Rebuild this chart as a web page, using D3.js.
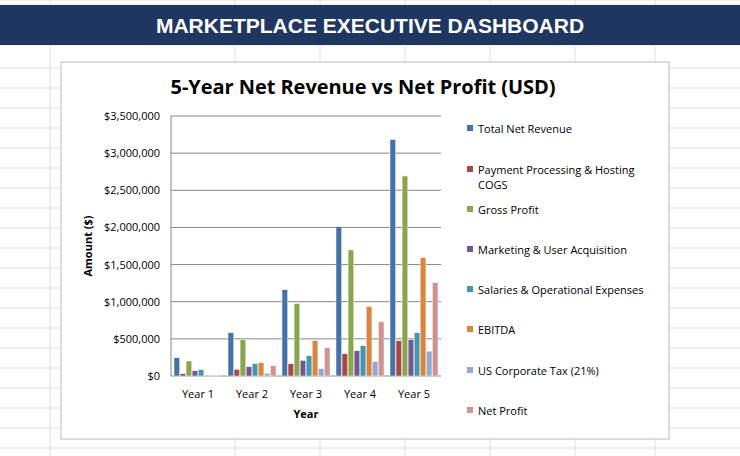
<!DOCTYPE html><html><head><meta charset="utf-8"><script src="https://cdn.jsdelivr.net/npm/d3@7"></script>
<style>body{margin:0;background:#fff}svg{display:block}</style></head><body><svg width="740" height="456"></svg>
<script>
const categories=["Year 1","Year 2","Year 3","Year 4","Year 5"];
const seriesNames=["Total Net Revenue","Payment Processing & Hosting COGS","Gross Profit","Marketing & User Acquisition","Salaries & Operational Expenses","EBITDA","US Corporate Tax (21%)","Net Profit"];
const colors=["#4572A7","#AA4643","#89A54E","#71588F","#4198AF","#DB843D","#93A9CF","#D19392"];
const totalNetRevenue=[247000,583000,1162000,2011000,3182000];
const cogs=[31000,90000,166000,300000,476000];
const grossProfit=[202000,489000,974000,1697000,2693000];
const marketing=[72000,126000,211000,341000,489000];
const salaries=[85000,166000,274000,408000,583000];
const ebitda=[13000,180000,476000,934000,1594000];
const tax=[3000,38000,100000,196000,335000];
const netProfit=[13000,139000,381000,732000,1257000];
const yTicks=[0,500000,1000000,1500000,2000000,2500000,3000000,3500000];
const values=[totalNetRevenue,cogs,grossProfit,marketing,salaries,ebitda,tax,netProfit];

const svg=d3.select("svg");
const g0=svg.append("g");
[0,5,45,68,88,108,128,148,168,188,208,228,248,268,288,308,328,348,368,388,408,428,448].forEach(y=>g0.append("line").attr("x1",0).attr("x2",740).attr("y1",y).attr("y2",y).attr("stroke","#e0e0e0"));
[50,235,320,405,490,575,655].forEach(x=>g0.append("line").attr("x1",x).attr("x2",x).attr("y1",0).attr("y2",456).attr("stroke","#e0e0e0"));
svg.append("rect").attr("x",0).attr("y",5).attr("width",740).attr("height",40).attr("fill","#1F3760");
svg.append("text").attr("x",370).attr("y",33).attr("text-anchor","middle").attr("fill","#fff").attr("font-family","Liberation Sans, Arial").attr("font-weight","bold").attr("font-size",21).text("MARKETPLACE EXECUTIVE DASHBOARD");
svg.append("rect").attr("x",61).attr("y",62).attr("width",608).attr("height",377).attr("fill","#fff").attr("stroke","#bbb");
svg.append("text").attr("x",363).attr("y",94).attr("text-anchor","middle").attr("font-family","Open Sans, Calibri, sans-serif").attr("font-weight","bold").attr("font-size",20).attr("textLength",385).attr("fill","#000").text("5-Year Net Revenue vs Net Profit (USD)");

const x0=d3.scaleBand().domain(categories).range([171,441]);
const x1=d3.scaleBand().domain(d3.range(8)).range([3,x0.bandwidth()-3]).paddingInner(0.05);
const y=d3.scaleLinear().domain([0,3500000]).range([376,116]);
const fmt=v=>"$"+d3.format(",")(v);
svg.append("g").selectAll("line").data(yTicks).join("line").attr("x1",171).attr("x2",441).attr("y1",d=>y(d)).attr("y2",d=>y(d)).attr("stroke","#868686");
svg.append("line").attr("x1",171).attr("x2",171).attr("y1",116).attr("y2",376).attr("stroke","#868686");
svg.append("g").selectAll("text").data(yTicks).join("text").attr("x",160).attr("y",d=>y(d)+4).attr("text-anchor","end").attr("font-family","Open Sans, sans-serif").attr("font-size",11).text(fmt);
const gb=svg.append("g");
values.forEach((arr,s)=>{gb.selectAll(null).data(arr).join("rect").attr("x",(d,i)=>x0(categories[i])+x1(s)).attr("width",x1.bandwidth()).attr("y",d=>y(d)).attr("height",d=>376-y(d)).attr("fill",colors[s]).attr("stroke","#fff").attr("stroke-width",0.5);});
svg.append("g").selectAll("text").data(categories).join("text").attr("x",d=>x0(d)+x0.bandwidth()/2).attr("y",398).attr("text-anchor","middle").attr("font-family","Open Sans, sans-serif").attr("font-size",11).text(d=>d);
svg.append("text").attr("x",306).attr("y",418).attr("text-anchor","middle").attr("font-family","Open Sans, sans-serif").attr("font-weight","bold").attr("font-size",11).text("Year");
svg.append("text").attr("transform","translate(92,246) rotate(-90)").attr("text-anchor","middle").attr("font-family","Open Sans, sans-serif").attr("font-weight","bold").attr("font-size",11).text("Amount ($)");
const legY=[129,170,210,250,290,330,371,411];
const lg=svg.append("g");
seriesNames.forEach((n,i)=>{
 lg.append("rect").attr("x",467).attr("y",legY[i]-4).attr("width",6).attr("height",6).attr("fill",colors[i]);
 const t=lg.append("text").attr("x",478).attr("y",legY[i]+4).attr("font-family","Open Sans, sans-serif").attr("font-size",11);
 if(i===1){t.append("tspan").text("Payment Processing & Hosting");t.append("tspan").attr("x",478).attr("dy",15).text("COGS");}
 else t.text(n);
});
</script></body></html>
